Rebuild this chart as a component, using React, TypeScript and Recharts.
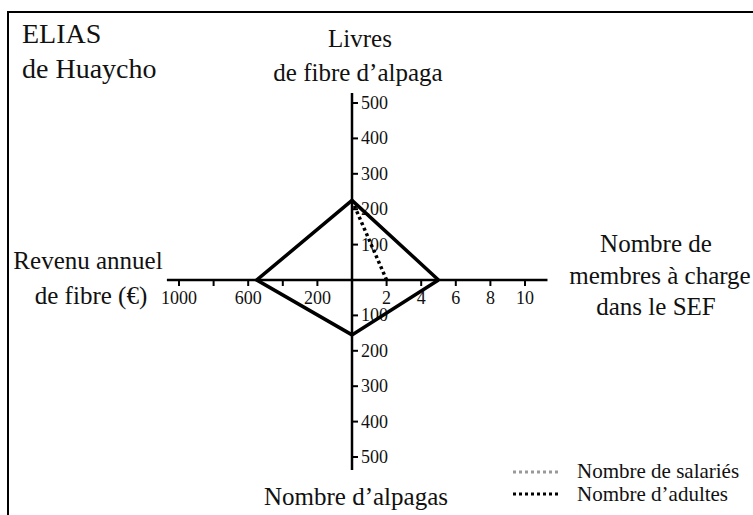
import React from "react";
import { ComposedChart, Scatter, XAxis, YAxis } from "recharts";

// --- values ---
const membresACharge = 5; // Nombre de membres à charge dans le SEF
const livresFibre = 225; // Livres de fibre d'alpaga
const revenuFibre = 550; // Revenu annuel de fibre (€)
const nombreAlpagas = 155; // Nombre d'alpagas
const nombreAdultes = 2;
const nombreSalaries = 0;

const membresTicks = [2, 4, 6, 8, 10];
const revenuTicks = [200, 400, 600, 800, 1000];
const revenuLabels = [200, 600, 1000];
const livresTicks = [100, 200, 300, 400, 500];
const alpagasTicks = [100, 200, 300, 400, 500];

// axis extents (in each axis' own units)
const membresMax = 11.3;
const revenuMax = 1070;
const livresMax = 528;
const alpagasMax = 537;

// --- layout ---
const W = 753;
const H = 515;
const ORIGIN_X = 352;
const ORIGIN_Y = 280;
const PX_PER_MEMBRE = 17.3;
const PX_PER_LIVRE = 0.354;
const EUROS_PER_MEMBRE = 100; // 200 € share the spacing of 2 membres

const FONT = "'Liberation Serif', 'Times New Roman', serif";

const xDomain = [-ORIGIN_X / PX_PER_MEMBRE, (W - ORIGIN_X) / PX_PER_MEMBRE];
const yDomain = [-(H - ORIGIN_Y) / PX_PER_LIVRE, ORIGIN_Y / PX_PER_LIVRE];

const rev = (v: number) => -v / EUROS_PER_MEMBRE;
const alp = (v: number) => -v;

const diamond = [
  { x: membresACharge, y: 0 },
  { x: 0, y: livresFibre },
  { x: rev(revenuFibre), y: 0 },
  { x: 0, y: alp(nombreAlpagas) },
  { x: membresACharge, y: 0 },
];
const adultesLine = [
  { x: 0, y: livresFibre },
  { x: nombreAdultes, y: 0 },
];
const salariesLine = [
  { x: 0, y: livresFibre },
  { x: nombreSalaries, y: 0 },
];
const hAxis = [
  { x: rev(revenuMax), y: 0 },
  { x: membresMax, y: 0 },
];
const vAxis = [
  { x: 0, y: livresMax },
  { x: 0, y: alp(alpagasMax) },
];

const hTicks = [
  ...membresTicks.map((v) => ({ x: v, y: 0, label: String(v) })),
  ...revenuTicks.map((v) => ({
    x: rev(v),
    y: 0,
    label: revenuLabels.includes(v) ? String(v) : "",
  })),
];
const vTicks = [
  ...livresTicks.map((v) => ({ x: 0, y: v, label: String(v) })),
  ...alpagasTicks.map((v) => ({ x: 0, y: alp(v), label: String(v) })),
];

const NoDot = () => <g />;

const HTick = (props: any) => {
  const { cx, cy, payload } = props;
  return (
    <g>
      <line x1={cx} y1={cy} x2={cx} y2={cy + 6} stroke="#000" strokeWidth={2} />
      <text x={cx} y={cy + 24} textAnchor="middle" fontSize={18} style={{ fontFamily: FONT }} fill="#111">
        {payload.label}
      </text>
    </g>
  );
};

const VTick = (props: any) => {
  const { cx, cy, payload } = props;
  return (
    <g>
      <line x1={cx} y1={cy} x2={cx + 6} y2={cy} stroke="#000" strokeWidth={2} />
      <text x={cx + 9} y={cy + 6} textAnchor="start" fontSize={18} style={{ fontFamily: FONT }} fill="#111">
        {payload.label}
      </text>
    </g>
  );
};

export default function App() {
  return (
    <div style={{ position: "absolute", left: 0, top: 0, width: W, height: H, background: "#fff" }}>
      <div
        style={{
          position: "absolute",
          left: 7,
          top: 11,
          width: W - 7,
          height: H - 11,
          borderTop: "2px solid #000",
          borderLeft: "2px solid #000",
          boxSizing: "border-box",
        }}
      />
      <ComposedChart width={W} height={H} margin={{ top: 0, right: 0, bottom: 0, left: 0 }} style={{ position: "absolute", left: 0, top: 0 }}>
        <XAxis type="number" dataKey="x" domain={xDomain} allowDataOverflow hide />
        <YAxis type="number" dataKey="y" domain={yDomain} allowDataOverflow hide />
        <Scatter data={salariesLine} line={{ stroke: "#999", strokeWidth: 2, strokeDasharray: "3 3" }} shape={NoDot} isAnimationActive={false} />
        <Scatter data={hAxis} line={{ stroke: "#000", strokeWidth: 2.5 }} shape={NoDot} isAnimationActive={false} />
        <Scatter data={vAxis} line={{ stroke: "#000", strokeWidth: 2.5 }} shape={NoDot} isAnimationActive={false} />
        <Scatter data={hTicks} shape={HTick} isAnimationActive={false} />
        <Scatter data={vTicks} shape={VTick} isAnimationActive={false} />
        <Scatter data={diamond} line={{ stroke: "#000", strokeWidth: 3.5, strokeLinejoin: "miter" }} shape={NoDot} isAnimationActive={false} />
        <Scatter data={adultesLine} line={{ stroke: "#000", strokeWidth: 3.5, strokeDasharray: "3 3" }} shape={NoDot} isAnimationActive={false} />
      </ComposedChart>
      <svg width={W} height={H} style={{ position: "absolute", left: 0, top: 0, pointerEvents: "none", fontFamily: FONT }} fill="#111">
        <text x={22} y={43} fontSize={28}>ELIAS</text>
        <text x={22} y={78} fontSize={28}>de Huaycho</text>

        <text x={360} y={47} fontSize={25} textAnchor="middle">Livres</text>
        <text x={358} y={81} fontSize={25} textAnchor="middle">de fibre d’alpaga</text>

        <text x={88} y={269} fontSize={25} textAnchor="middle">Revenu annuel</text>
        <text x={91} y={304} fontSize={25} textAnchor="middle">de fibre (€)</text>

        <text x={656} y={252} fontSize={25} textAnchor="middle">Nombre de</text>
        <text x={660} y={284} fontSize={25} textAnchor="middle">membres à charge</text>
        <text x={656} y={315} fontSize={25} textAnchor="middle">dans le SEF</text>

        <text x={356} y={505} fontSize={25} textAnchor="middle">Nombre d’alpagas</text>

        <line x1={513} y1={472} x2={558} y2={472} stroke="#999" strokeWidth={3} strokeDasharray="3 3" />
        <text x={577} y={478} fontSize={21}>Nombre de salariés</text>
        <line x1={513} y1={494} x2={558} y2={494} stroke="#000" strokeWidth={3} strokeDasharray="3 3" />
        <text x={577} y={501} fontSize={21}>Nombre d’adultes</text>
      </svg>
    </div>
  );
}
